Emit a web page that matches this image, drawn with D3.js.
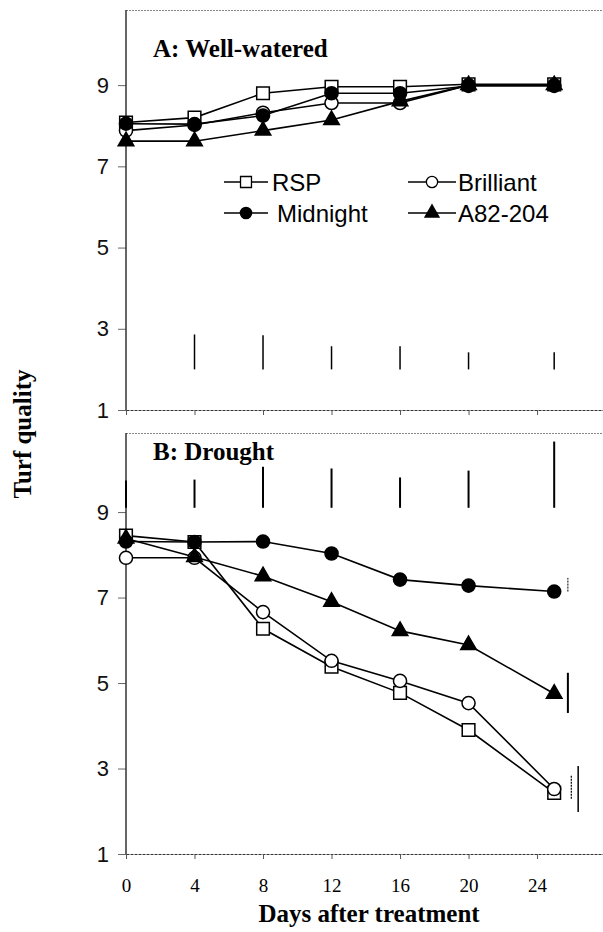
<!DOCTYPE html>
<html>
<head>
<meta charset="utf-8">
<script src="https://cdn.jsdelivr.net/npm/d3@7"></script>
<style>
  html, body { margin: 0; padding: 0; background: #fff; }
  svg { display: block; }
</style>
</head>
<body>
<svg id="chart" width="603" height="932"></svg>
<script>
// ---------------- DATA ----------------
const days = [0, 4, 8, 12, 16, 20, 25];
const xTicks = [0, 4, 8, 12, 16, 20, 24];
const yTicks = [1, 3, 5, 7, 9];
const seriesNames = ["RSP", "Brilliant", "Midnight", "A82-204"];

// Panel A: Well-watered
const wwRSP       = [8.08, 8.20, 8.80, 8.96, 8.96, 9.02, 9.02];
const wwBrilliant = [7.88, 8.02, 8.32, 8.56, 8.56, 9.00, 9.00];
const wwMidnight  = [8.05, 8.04, 8.25, 8.80, 8.80, 8.98, 8.98];
const wwA82       = [7.62, 7.62, 7.88, 8.14, 8.60, 9.00, 9.00];

// Panel B: Drought
const drRSP       = [8.45, 8.30, 6.27, 5.38, 4.77, 3.90, 2.43];
const drBrilliant = [7.93, 7.93, 6.66, 5.52, 5.05, 4.53, 2.52];
const drMidnight  = [8.31, 8.30, 8.31, 8.03, 7.42, 7.28, 7.14];
const drA82       = [8.38, 7.95, 7.50, 6.90, 6.22, 5.89, 4.75];

// LSD bars, panel A (days, low, high)
const lsdADays = [4, 8, 12, 16, 20, 25];
const lsdALow  = [2.0, 2.0, 2.0, 2.0, 2.0, 2.0];
const lsdAHigh = [2.86, 2.84, 2.57, 2.57, 2.42, 2.42];

// LSD bars, panel B
const lsdBDays = [0, 4, 8, 12, 16, 20, 25];
const lsdBLow  = [9.10, 9.10, 9.10, 9.10, 9.10, 9.10, 9.10];
const lsdBHigh = [9.74, 9.76, 10.06, 10.02, 9.81, 9.97, 10.65];

// End-of-period bars, panel B (day position, low, high)
const endBarDay  = [25.8, 25.8, 26.0, 26.4];
const endBarLow  = [7.14, 4.30, 2.29, 1.98];
const endBarHigh = [7.46, 5.24, 2.85, 3.06];

// ---------------- DRAW ----------------
const svg = d3.select("#chart");
const serif = "'Liberation Serif','Times New Roman',Times,serif";
const sans = "'Liberation Sans',Arial,Helvetica,sans-serif";

const x = d3.scaleLinear().domain([0, 27.85]).range([126, 603]);
const yA = d3.scaleLinear().domain([1, 10.85]).range([410, 10]);
const yB = d3.scaleLinear().domain([1, 10.85]).range([854, 433]);

const symType = {
  "RSP": d3.symbolSquare, "Brilliant": d3.symbolCircle,
  "Midnight": d3.symbolCircle, "A82-204": d3.symbolTriangle
};
const symFill = { "RSP": "#fff", "Brilliant": "#fff", "Midnight": "#000", "A82-204": "#000" };
const symSize = { "RSP": 160, "Brilliant": 135, "Midnight": 135, "A82-204": 105 };
const legSize = { "RSP": 120, "Brilliant": 100, "Midnight": 100, "A82-204": 85 };

function drawPanel(y, valuesList, title, titleY, showXLabels) {
  const g = svg.append("g");
  // top border (dotted, light)
  g.append("line")
    .attr("x1", x.range()[0]).attr("x2", x.range()[1])
    .attr("y1", y.range()[1] + 0.5).attr("y2", y.range()[1] + 0.5)
    .attr("stroke", "#888").attr("stroke-width", 1).attr("stroke-dasharray", "2,1");

  // Y axis
  const ya = g.append("g").attr("transform", `translate(${x(0)},0)`)
    .call(d3.axisLeft(y).tickValues(yTicks).tickSize(8).tickPadding(9).tickSizeOuter(0));
  ya.select(".domain").remove();
  ya.selectAll(".tick line").attr("stroke", "#666").attr("stroke-width", 1);
  ya.selectAll(".tick text").attr("font-family", sans).attr("font-size", 22).attr("fill", "#111");
  g.append("line")
    .attr("x1", x(0)).attr("x2", x(0))
    .attr("y1", y.range()[1]).attr("y2", y.range()[0])
    .attr("stroke", "#333").attr("stroke-width", 1.5);

  // X axis
  const xa = g.append("g").attr("transform", `translate(0,${y(1)})`)
    .call(d3.axisBottom(x).tickValues(xTicks).tickSize(5).tickPadding(20).tickSizeOuter(0)
      .tickFormat(showXLabels ? d3.format("d") : () => ""));
  xa.select(".domain").attr("stroke", "#333").attr("stroke-width", 1.2).attr("stroke-dasharray", "3,1");
  xa.selectAll(".tick line").attr("stroke", "#555");
  xa.selectAll(".tick text").attr("font-family", serif).attr("font-size", 19).attr("fill", "#000");

  // title
  g.append("text").attr("x", 153).attr("y", titleY)
    .attr("font-family", serif).attr("font-weight", "bold").attr("font-size", 25)
    .text(title);

  // series
  const line = d3.line().x((d, i) => x(days[i])).y(d => y(d));
  seriesNames.forEach((name, si) => {
    const vals = valuesList[si];
    g.append("path").datum(vals).attr("d", line)
      .attr("fill", "none").attr("stroke", "#000").attr("stroke-width", 1.6);
  });
  seriesNames.forEach((name, si) => {
    const vals = valuesList[si];
    g.selectAll(null).data(vals).enter().append("path")
      .attr("transform", (d, i) => `translate(${x(days[i])},${y(d)})`)
      .attr("d", d3.symbol().type(symType[name]).size(symSize[name]))
      .attr("fill", symFill[name]).attr("stroke", "#000").attr("stroke-width", 1.5);
  });
  return g;
}

const gA = drawPanel(yA, [wwRSP, wwBrilliant, wwMidnight, wwA82], "A: Well-watered", 57, false);
const gB = drawPanel(yB, [drRSP, drBrilliant, drMidnight, drA82], "B: Drought", 460, true);

// LSD bars A
gA.selectAll(null).data(lsdADays).enter().append("line")
  .attr("x1", d => x(d)).attr("x2", d => x(d))
  .attr("y1", (d, i) => yA(lsdALow[i])).attr("y2", (d, i) => yA(lsdAHigh[i]))
  .attr("stroke", "#000").attr("stroke-width", 1.5);

// LSD bars B
gB.selectAll(null).data(lsdBDays).enter().append("line")
  .attr("x1", d => x(d)).attr("x2", d => x(d))
  .attr("y1", (d, i) => yB(lsdBLow[i])).attr("y2", (d, i) => yB(lsdBHigh[i]))
  .attr("stroke", "#000").attr("stroke-width", 2);

// End bars B
const endW = [1, 2, 1.2, 1.5];
const endDash = ["2,1", null, "2,1", null];
gB.selectAll(null).data(endBarDay).enter().append("line")
  .attr("x1", d => x(d)).attr("x2", d => x(d))
  .attr("y1", (d, i) => yB(endBarLow[i])).attr("y2", (d, i) => yB(endBarHigh[i]))
  .attr("stroke", "#000").attr("stroke-width", (d, i) => endW[i])
  .attr("stroke-dasharray", (d, i) => endDash[i]);

// Legend (panel A)
const legPos = [
  { lx: 224, tx: 272, y: 182 },
  { lx: 408, tx: 458, y: 182 },
  { lx: 224, tx: 277, y: 213 },
  { lx: 408, tx: 458, y: 213 }
];
const legLineLen = [44, 48, 44, 48];
seriesNames.forEach((name, i) => {
  const p = legPos[i];
  gA.append("line").attr("x1", p.lx).attr("x2", p.lx + legLineLen[i])
    .attr("y1", p.y).attr("y2", p.y).attr("stroke", "#000").attr("stroke-width", 1.5);
  gA.append("path")
    .attr("transform", `translate(${p.lx + legLineLen[i] / 2},${p.y})`)
    .attr("d", d3.symbol().type(symType[name]).size(legSize[name]))
    .attr("fill", symFill[name]).attr("stroke", "#000").attr("stroke-width", 1.3);
  gA.append("text").attr("x", p.tx).attr("y", p.y + 9)
    .attr("font-family", sans).attr("font-size", 24).text(name);
});

// Axis titles
svg.append("text")
  .attr("transform", "translate(31,434) rotate(-90)")
  .attr("text-anchor", "middle")
  .attr("font-family", serif).attr("font-weight", "bold").attr("font-size", 25)
  .text("Turf quality");

svg.append("text")
  .attr("x", 369).attr("y", 922)
  .attr("text-anchor", "middle")
  .attr("font-family", serif).attr("font-weight", "bold").attr("font-size", 25)
  .text("Days after treatment");
</script>
</body>
</html>
